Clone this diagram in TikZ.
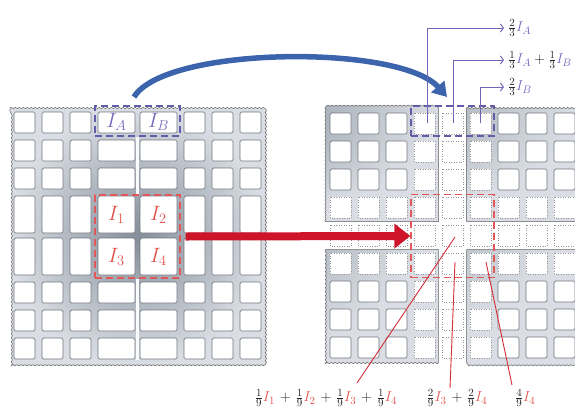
\documentclass[tikz,border=0pt]{standalone}
\usetikzlibrary{arrows.meta,decorations.pathmorphing,calc}

\definecolor{steelL}{RGB}{218,222,228}
\definecolor{steelD}{RGB}{132,141,153}
\definecolor{cellEdge}{RGB}{112,118,126}
\definecolor{dotEdge}{RGB}{150,150,150}
\definecolor{bigBlue}{RGB}{60,100,172}
\definecolor{lineBlue}{RGB}{112,104,182}
\definecolor{textBlue}{RGB}{118,108,190}
\definecolor{boxBlue}{RGB}{98,92,170}
\definecolor{bigRed}{RGB}{206,20,40}
\definecolor{lineRed}{RGB}{214,45,55}
\definecolor{textRed}{RGB}{226,82,76}
\definecolor{boxRed}{RGB}{226,88,88}
\definecolor{coef}{RGB}{40,40,40}

\tikzset{
  cell/.style={fill=white, draw=cellEdge, line width=0.7pt, rounded corners=1.5pt},
  dotcell/.style={fill=white, draw=dotEdge, line width=0.5pt, dotted},
  plate/.style={inner color=steelD, outer color=steelL, draw=gray!75!black, line width=0.5pt},
  wave/.style={decoration={snake, amplitude=0.6pt, segment length=4pt}},
  bluebox/.style={draw=boxBlue, line width=1.3pt, dash pattern=on 7pt off 4pt, inner sep=0pt},
  redbox/.style={draw=boxRed, line width=1.3pt, dash pattern=on 7pt off 4pt, inner sep=0pt},
  celllbl/.style={font=\fontsize{20}{24}\selectfont, inner sep=0pt},
  lbl/.style={font=\fontsize{15}{18}\selectfont, text=coef, inner sep=1pt},
  bigarrow/.style={draw=bigBlue, line width=5.5pt, -{Triangle[length=14pt,width=17pt]}},
  redarrow/.style={draw=bigRed, line width=8pt, -{Triangle[length=16pt,width=24pt]}},
  bluelink/.style={draw=lineBlue, line width=1pt, -{Straight Barb[length=3pt,width=8pt]}},
  redlink/.style={draw=lineRed, line width=0.9pt},
}
\newcommand{\plusgap}{\mkern2mu+\mkern2mu}

\begin{document}
\begin{tikzpicture}[x=1pt, y=-1pt]
\useasboundingbox (0,0) rectangle (575,410);
\clip (0,0) rectangle (575,410);

% ---------- left mesh: one plate, middle row and column merged ----------
\path[plate, wave, decorate] (10,108) -- (265,108) -- (265,363) -- (10,363) -- cycle;
\fill[white!85!steelL] (136,137) rectangle (139,194);
\fill[white!85!steelL] (136,279) rectangle (139,360);
\foreach \xa/\xb in {-123.5/-102.5,-95.5/-74.5,-67.5/-46.5,-39.5/-2.5,2.5/39.5,46.5/67.5,74.5/95.5,102.5/123.5}{
  \foreach \ya/\yb in {-123.5/-102.5,-95.5/-74.5,-67.5/-46.5,-39.5/-2.5,2.5/39.5,46.5/67.5,74.5/95.5,102.5/123.5}{
    \draw[cell] ({137.5+\xa},{235.5+\ya}) rectangle ({137.5+\xb},{235.5+\yb});
  }
}

% ---------- right mesh: four corner plates around an open cross ----------
\path[plate] decorate[wave]{(325.5,221.5) -- (325.5,108) -- (438.5,108)} -- (438.5,221.5) -- cycle;
\path[plate] decorate[wave]{(466.5,108) -- (579.5,108) -- (579.5,221.5)} -- (466.5,221.5) -- cycle;
\path[plate] decorate[wave]{(438.5,363) -- (325.5,363) -- (325.5,249.5)} -- (438.5,249.5) -- cycle;
\path[plate] decorate[wave]{(579.5,249.5) -- (579.5,363) -- (466.5,363)} -- (466.5,249.5) -- cycle;
\foreach \i in {-4,...,4}{
  \foreach \j in {-4,...,4}{
    \pgfmathtruncatemacro\far{(abs(\i)>1)&&(abs(\j)>1)}
    \ifnum\far=1
      \draw[cell] ({452.5+28*\i-10.5},{235.5+28*\j-10.5}) rectangle ++(21,21);
    \else
      \draw[dotcell] ({452.5+28*\i-10.5},{235.5+28*\j-10.5}) rectangle ++(21,21);
    \fi
  }
}

% ---------- cell labels ----------
\node[celllbl, text=textBlue] (cA) at (116.5,122) {$I_A$};
\node[celllbl, text=textBlue] (cB) at (158.5,122) {$I_B$};
\node[celllbl, text=textRed] (c1) at (116.5,215) {$I_1$};
\node[celllbl, text=textRed] (c2) at (158.5,215) {$I_2$};
\node[celllbl, text=textRed] (c3) at (116.5,257) {$I_3$};
\node[celllbl, text=textRed] (c4) at (158.5,257) {$I_4$};

% ---------- dashed windows ----------
\node[bluebox, minimum width=85pt, minimum height=30pt] (lB) at (137.5,121) {};
\node[redbox, minimum width=85pt, minimum height=83pt] (lR) at (137.5,236.5) {};
\node[bluebox, minimum width=83pt, minimum height=30pt] (rB) at (452.5,121) {};
\node[redbox, minimum width=83pt, minimum height=83pt] (rR) at (452.5,236) {};

% ---------- big arrows ----------
\coordinate (bs) at (134,97);
\coordinate (be) at (447,97);
\draw[bigarrow] (bs) .. controls (165,46) and (400,44) .. (be);
\draw[redarrow] ([xshift=5pt]lR.east) -- (rR.west);

% ---------- top labels and their leaders ----------
\node[lbl, anchor=west] (tA)  at (507,28) {$\frac{2}{3}{\color{textBlue}I_A}$};
\node[lbl, anchor=west] (tAB) at (507,60) {$\frac{1}{3}{\color{textBlue}I_A}+\frac{1}{3}{\color{textBlue}I_B}$};
\node[lbl, anchor=west] (tB)  at (507,87) {$\frac{2}{3}{\color{textBlue}I_B}$};
\coordinate (b1) at (427,123);
\coordinate (b2) at (453,123);
\coordinate (b3) at (480,123);
\draw[bluelink] (b1) |- ([xshift=-3pt]tA.west);
\draw[bluelink] (b2) |- ([xshift=-3pt]tAB.west);
\draw[bluelink] (b3) |- ([xshift=-3pt]tB.west);

% ---------- bottom labels and their leaders ----------
\node[lbl] (L1) at (326,398) {$\frac{1}{9}{\color{textRed}I_1}\plusgap\frac{1}{9}{\color{textRed}I_2}\plusgap\frac{1}{9}{\color{textRed}I_3}\plusgap\frac{1}{9}{\color{textRed}I_4}$};
\node[lbl] (L2) at (457,398) {$\frac{2}{9}{\color{textRed}I_3}\plusgap\frac{2}{9}{\color{textRed}I_4}$};
\node[lbl, anchor=west] (L3) at (514,398) {$\frac{4}{9}{\color{textRed}I_4}$};
\coordinate (r1) at (455,237);
\coordinate (r2) at (455,262);
\coordinate (r3) at (486,262);
\coordinate (e1) at (357,383);
\coordinate (e2) at (450,388);
\coordinate (e3) at (512,385);
\draw[redlink] (r1) -- (e1);
\draw[redlink] (r2) -- (e2);
\draw[redlink] (r3) -- (e3);
\end{tikzpicture}
\end{document}
